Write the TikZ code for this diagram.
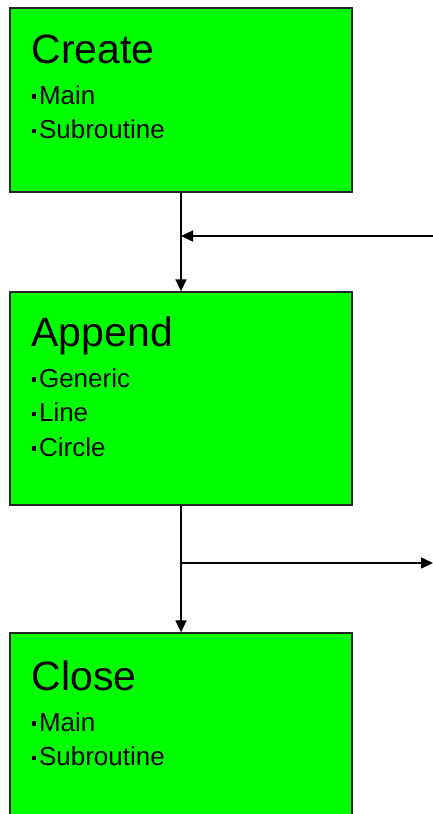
\documentclass[tikz,border=0pt]{standalone}
\usepackage{fontspec}
\setmainfont{Liberation Sans}
\usetikzlibrary{arrows.meta, positioning}
\newcommand{\sqbul}{\raisebox{5.5pt}{\rule{4.5pt}{4.5pt}}\hspace{3pt}}

\begin{document}
\begin{tikzpicture}[
  x=1pt, y=-1pt,
  stage/.style = {draw=black!85, line width=1.3pt, fill=green,
                  minimum width=342pt, inner sep=0pt},
  ttl/.style   = {inner sep=0pt, font=\fontsize{41}{41}\selectfont},
  items/.style = {inner sep=0pt, align=left,
                  font=\fontsize{26}{34.5}\selectfont},
  arr/.style   = {-{Triangle[length=12pt, width=11pt]}, line width=1.5pt},
]
  \useasboundingbox (0,0) rectangle (433,814);
  % the three stages
  \node[stage, minimum height=184pt] (create) at (181,100)   {};
  \node[stage, minimum height=213pt] (append) at (181,398.5) {};
  \node[stage, minimum height=200pt] (close)  at (181,733)   {};
  % titles and bullet lists
  \node[ttl, below right=27pt and 22pt of create.north west] (createT) {Create};
  \node[items, below right=22pt and 0pt of createT.base west] (createL)
       {\sqbul Main\\\sqbul Subroutine};
  \node[ttl, below right=25pt and 22pt of append.north west] (appendT) {Append};
  \node[items, below right=22pt and 0pt of appendT.base west] (appendL)
       {\sqbul Generic\\\sqbul Line\\\sqbul Circle};
  \node[ttl, below right=28pt and 22pt of close.north west] (closeT) {Close};
  \node[items, below right=22pt and 0pt of closeT.base west] (closeL)
       {\sqbul Main\\\sqbul Subroutine};
  % flow
  \coordinate (feedIn)  at (433,236);
  \coordinate (feedOut) at (433,563);
  \draw[arr] (create) -- (append);
  \draw[arr] (feedIn) -- (feedIn -| create);
  \draw[arr] (append) -- (close);
  \draw[arr] (feedOut -| append) -- (feedOut);
\end{tikzpicture}
\end{document}
